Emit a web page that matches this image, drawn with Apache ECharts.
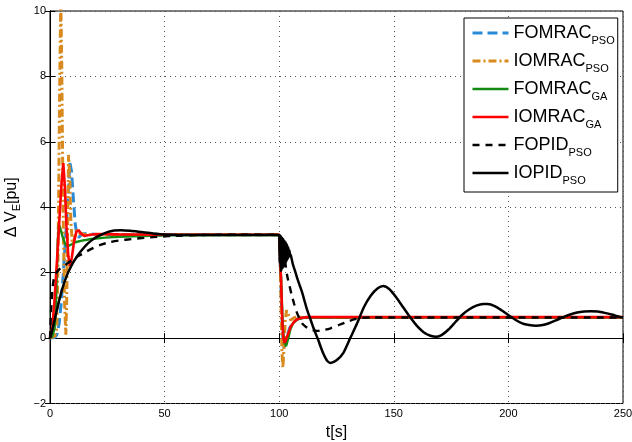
<!DOCTYPE html>
<html><head><meta charset="utf-8">
<script src="https://cdn.jsdelivr.net/npm/echarts@6/dist/echarts.min.js"></script>
<style>html,body{margin:0;padding:0;background:#fff}#c{width:632px;height:442px}</style>
</head><body><div id="c"></div>
<script>
// ---- data ----
const xTicks = [0, 50, 100, 150, 200, 250];
const yTicks = [-2, 0, 2, 4, 6, 8, 10];
const seriesNames = ['FOMRAC_PSO', 'IOMRAC_PSO', 'FOMRAC_GA', 'IOMRAC_GA', 'FOPID_PSO', 'IOPID_PSO'];

const fomracPsoT = [0,2,3,4,5,6,7,8,8.7,9.4,10.2,11,11.7,12.5,14,16,20,40,100,100.3,100.8,101.4,102,102.7,103.5,104.5,106,108,110,112,250];
const fomracPsoV = [0,0.02,0.1,0.45,1.15,2.2,3.3,4.5,5.35,5.1,4.25,3.5,3.15,3.08,3.18,3.2,3.17,3.16,3.16,3.1,1.5,0.2,-0.3,-0.25,0.05,0.3,0.48,0.58,0.62,0.63,0.63];

const iomracPsoT = [0,2,3.0,3.4,3.8,4.2,4.7,5.1,5.5,5.9,6.4,6.9,7.3,7.7,8.1,8.6,9.1,9.7,10.5,11.5,13,16,100,100.3,100.8,101.2,101.6,102.1,102.6,103.2,104,105,106,108,110,250];
const iomracPsoV = [0,0.05,0.3,2.0,4.5,7.5,10.3,8.5,5.5,3.0,1.0,0.1,1.2,3.5,5.6,5.0,3.6,2.9,3.0,3.3,3.2,3.16,3.16,3.0,1.0,-0.4,-0.9,-0.3,0.5,0.85,0.72,0.55,0.6,0.66,0.63,0.63];

const fomracGaT = [0,1,2,2.6,3.0,3.4,3.9,4.5,5.5,6.5,7.5,8.3,9.5,11,14,18,24,30,40,55,100,100.5,101,101.6,102.3,103,103.8,104.8,106,107.5,109,111,250];
const fomracGaV = [0,0.05,0.3,1.0,2.0,3.0,3.46,3.35,3.1,2.9,2.8,2.78,2.87,2.93,2.98,3.03,3.07,3.1,3.12,3.15,3.15,3.1,1.5,0.3,-0.15,-0.25,-0.05,0.25,0.45,0.55,0.6,0.63,0.63];

const iomracGaT = [0,1,2,3,4,5,5.8,6.5,7.2,8,8.7,9.5,10.5,11.5,12.4,13.5,15,17,20,30,50,100,100.3,100.8,101.3,101.8,102.4,103,104,105,106.5,108,110,112,250];
const iomracGaV = [0,0.3,1.2,2.3,3.5,4.7,5.35,4.6,3.4,2.5,2.2,2.45,2.95,3.25,3.3,3.2,3.12,3.15,3.18,3.17,3.16,3.16,3.1,1.8,0.6,0.0,-0.15,-0.1,0.15,0.35,0.5,0.58,0.62,0.64,0.64];

const fopidT = [0,0.5,1,1.5,2,3,4,5,7,10,13,16,19,22,26,30,36,42,48,55,65,80,100,100.5,101.5,102.7,103.5,104.5,105.5,106.5,107.5,108.5,110,111.5,113,116.5,119,122.4,126,129.7,133,136,140,250];
const fopidV = [0,0.9,1.45,1.75,1.9,2.02,2.1,2.15,2.25,2.4,2.53,2.65,2.76,2.85,2.93,2.98,3.03,3.07,3.1,3.13,3.15,3.16,3.16,3.12,2.75,2.28,1.9,1.6,1.3,1.05,0.82,0.65,0.45,0.35,0.28,0.22,0.24,0.3,0.4,0.5,0.58,0.62,0.63,0.63];

const iopidT = [0,1,2,3,4,5,6,7,8,10,12,14,16,18,20,22,25,28,31,35,40,45,50,60,70,99.5,
  100,100.25,100.5,100.75,101,101.25,101.5,101.75,102,102.25,102.5,102.75,103,103.25,103.5,103.75,104,104.25,104.5,104.75,105,105.5,
  106,107,108,109,110,111,112,113,114,115,116,117,118,119,120,121,122.4,125,128,131,134,137,140,143,145.4,148,151,154,157,160,163,166,168.7,171,174,177,180,183,186,189,191,194,197,200,203,206,209,212,215,218,221,224,227,230,233,236,239,242,245,248,250];
const iopidV = [0,0.25,0.55,0.85,1.15,1.42,1.65,1.85,2.02,2.3,2.52,2.7,2.86,2.98,3.08,3.15,3.24,3.29,3.3,3.28,3.24,3.2,3.17,3.15,3.15,3.15,
  3.14,2.3,3.12,2.05,3.1,2.1,3.06,2.15,3.02,2.2,2.97,2.28,2.92,2.35,2.85,2.42,2.77,2.48,2.68,2.5,2.55,2.4,
  2.25,2.03,1.8,1.6,1.4,1.15,0.9,0.7,0.5,0.3,0.12,-0.05,-0.25,-0.43,-0.58,-0.7,-0.76,-0.68,-0.45,0.0,0.45,0.95,1.3,1.52,1.59,1.5,1.25,0.95,0.65,0.38,0.18,0.07,0.04,0.1,0.27,0.5,0.72,0.88,0.99,1.04,1.04,0.98,0.85,0.7,0.56,0.45,0.4,0.38,0.4,0.46,0.55,0.64,0.72,0.78,0.81,0.82,0.81,0.77,0.72,0.66,0.63];

// ---- chart ----
const FONT = '"Liberation Sans", Arial, Helvetica, sans-serif';
const zip = (t, v) => t.map((x, i) => [x, v[i]]);
const legendLabels = {
  'FOMRAC_PSO': '{m|FOMRAC}{s|PSO}',
  'IOMRAC_PSO': '{m|IOMRAC}{s|PSO}',
  'FOMRAC_GA': '{m|FOMRAC}{s|GA}',
  'IOMRAC_GA': '{m|IOMRAC}{s|GA}',
  'FOPID_PSO': '{m|FOPID}{s|PSO}',
  'IOPID_PSO': '{m|IOPID}{s|PSO}'
};
const gridLine = { show: true, lineStyle: { color: '#555', width: 1, type: [1, 4] } };
const minus = v => String(v).replace('-', '\u2212');
const mk = (name, t, v, color, width, type, smooth) => ({
  name, type: 'line', data: zip(t, v), symbol: 'none', smooth: smooth || false,
  lineStyle: { color, width, type }, itemStyle: { color }, clip: true
});

const chart = echarts.init(document.getElementById('c'), null, { renderer: 'canvas' });
chart.setOption({
  animation: false,
  backgroundColor: '#fff',
  grid: { left: 50, right: 9, top: 11, bottom: 38.5, show: true, borderColor: '#000', borderWidth: 1,
          containLabel: false, outerBoundsMode: 'none' },
  xAxis: [{
    type: 'value', min: xTicks[0], max: xTicks[xTicks.length - 1], interval: 50, position: 'bottom',
    axisLine: { show: true, lineStyle: { color: '#000', width: 1 } },
    axisTick: { show: true, inside: true, length: 5, lineStyle: { color: '#000' } },
    axisLabel: { color: '#000', fontSize: 11, fontFamily: FONT, margin: 5, formatter: minus },
    splitLine: gridLine,
    name: 't[s]', nameLocation: 'middle', nameGap: 19,
    nameTextStyle: { color: '#000', fontSize: 16, fontFamily: FONT }
  }, {
    type: 'value', min: xTicks[0], max: xTicks[xTicks.length - 1], interval: 50, position: 'top',
    axisLine: { show: true, lineStyle: { color: '#000', width: 1 } },
    axisTick: { show: true, inside: true, length: 5, lineStyle: { color: '#000' } },
    axisLabel: { show: false }, splitLine: { show: false }
  }],
  yAxis: [{
    type: 'value', min: yTicks[0], max: yTicks[yTicks.length - 1], interval: 2, position: 'left',
    axisLine: { show: true, lineStyle: { color: '#000', width: 1 } },
    axisTick: { show: true, inside: true, length: 5, lineStyle: { color: '#000' } },
    axisLabel: { color: '#000', fontSize: 11, fontFamily: FONT, margin: 4, formatter: minus },
    splitLine: gridLine,
    name: '{a|\u0394 V}{b|E}{a|[pu]}', nameLocation: 'middle', nameGap: 20,
    nameTextStyle: {
      color: '#000', fontFamily: FONT,
      rich: {
        a: { fontSize: 16, lineHeight: 22, fontFamily: FONT, color: '#000' },
        b: { fontSize: 11, lineHeight: 11, verticalAlign: 'bottom', fontFamily: FONT, color: '#000' }
      }
    }
  }, {
    type: 'value', min: yTicks[0], max: yTicks[yTicks.length - 1], interval: 2, position: 'right',
    axisLine: { show: true, lineStyle: { color: '#000', width: 1 } },
    axisTick: { show: true, inside: true, length: 5, lineStyle: { color: '#000' } },
    axisLabel: { show: false }, splitLine: { show: false }
  }],
  legend: {
    orient: 'vertical', left: 464, top: 18, padding: [6, 3, 6, 7], itemGap: 6,
    itemWidth: 36, itemHeight: 12, selectedMode: false,
    backgroundColor: '#fff', borderColor: '#000', borderWidth: 1, borderRadius: 0,
    data: seriesNames,
    formatter: n => legendLabels[n],
    lineStyle: { width: 'inherit' },
    itemStyle: { opacity: 0, borderWidth: 0 },
    textStyle: {
      color: '#000', fontFamily: FONT,
      rich: {
        m: { fontSize: 18, lineHeight: 26, fontFamily: FONT, color: '#000' },
        s: { fontSize: 11, lineHeight: 11, verticalAlign: 'bottom', fontFamily: FONT, color: '#000' }
      }
    }
  },
  series: [
    mk('FOMRAC_PSO', fomracPsoT, fomracPsoV, '#2a8ad6', 3, [10, 5]),
    mk('IOMRAC_PSO', iomracPsoT, iomracPsoV, '#d98a1f', 3, [8, 3, 2, 3]),
    mk('FOMRAC_GA', fomracGaT, fomracGaV, '#128a12', 2.4, 'solid'),
    mk('IOMRAC_GA', iomracGaT, iomracGaV, '#ff0000', 2.6, 'solid'),
    mk('FOPID_PSO', fopidT, fopidV, '#000000', 2.4, [7, 6], 0.25),
    mk('IOPID_PSO', iopidT, iopidV, '#000000', 2.5, 'solid', 0.25)
  ]
});
</script>
</body></html>
